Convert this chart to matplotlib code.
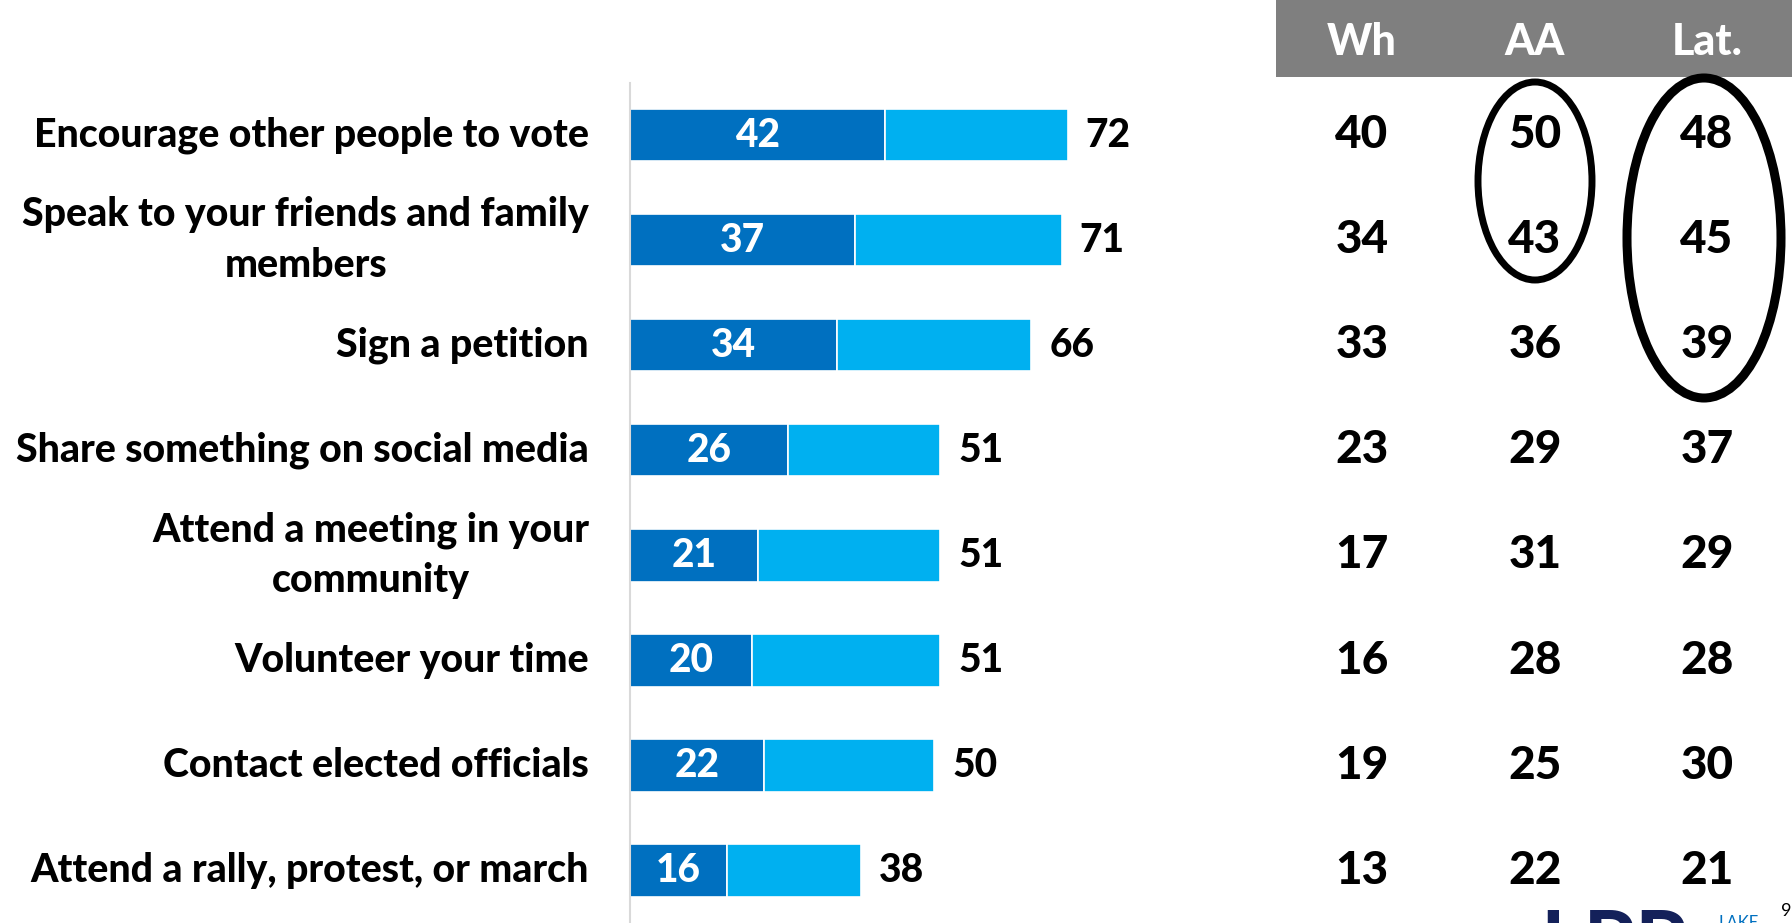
import matplotlib
matplotlib.use("Agg")
import matplotlib.pyplot as plt
from matplotlib.patches import Ellipse, Rectangle

plt.rcParams['font.family'] = ['Lato', 'DejaVu Sans']

categories = [
    "Encourage other people to vote",
    "Speak to your friends and family\nmembers",
    "Sign a petition",
    "Share something on social media",
    "Attend a meeting in your\ncommunity",
    "Volunteer your time",
    "Contact elected officials",
    "Attend a rally, protest, or march",
]
strong = [42, 37, 34, 26, 21, 20, 22, 16]
total = [72, 71, 66, 51, 51, 51, 50, 38]
groups = ["Wh", "AA", "Lat."]
white = [40, 34, 33, 23, 17, 16, 19, 13]
african_american = [50, 43, 36, 29, 31, 28, 25, 22]
latino = [48, 45, 39, 37, 29, 28, 30, 21]

FW = 900

W, H = 1792, 923
fig = plt.figure(figsize=(W / 100, H / 100), dpi=100)
fig.patch.set_facecolor('white')

ax_left = 630 / W
ax_w = 608 / W
ax_top_px = 82.5
ax = fig.add_axes([ax_left, 0.0, ax_w, (H - ax_top_px) / H])
ax.set_xlim(0, 100)
ax.set_ylim(len(categories) - 0.5, -0.5)

ypos = list(range(len(categories)))
rest = [t - s for t, s in zip(total, strong)]
ax.barh(ypos, strong, height=0.5, color='#0070C0', edgecolor='white', linewidth=1.2)
ax.barh(ypos, rest, left=strong, height=0.5, color='#00B0F0', edgecolor='white', linewidth=1.2)

for y, s, t in zip(ypos, strong, total):
    ax.text(s / 2, y, str(s), ha='center', va='center', color='white',
            fontsize=28, fontweight=FW)
    ax.annotate(str(t), xy=(t, y), xytext=(13, 0), textcoords='offset points',
                ha='left', va='center', color='black', fontsize=28, fontweight=FW)

ax.set_yticks([])
ax.set_xticks([])
for side in ['top', 'right', 'bottom']:
    ax.spines[side].set_visible(False)
ax.spines['left'].set_color('#d9d9d9')
ax.spines['left'].set_linewidth(1.5)
ax.patch.set_alpha(0)

ov = fig.add_axes([0, 0, 1, 1], zorder=5)
ov.set_xlim(0, W)
ov.set_ylim(H, 0)
ov.axis('off')
ov.patch.set_alpha(0)

row_y = [135 + 105.1 * i for i in range(len(categories))]
for y, c in zip(row_y, categories):
    ov.text(589, y, c, ha='right', va='center', multialignment='center',
            fontsize=28.3, fontweight=FW, color='black', linespacing=1.45)

ov.add_patch(Rectangle((1276, -5), W - 1276 + 5, 82, facecolor='#7f7f7f', edgecolor='none'))
col_x = [1362, 1535, 1707]
for x, g in zip(col_x, groups):
    ov.text(x, 42, g, ha='center', va='center', color='white', fontsize=31, fontweight=FW)

for x, vals in zip(col_x, [white, african_american, latino]):
    for y, v in zip(row_y, vals):
        ov.text(x, y, str(v), ha='center', va='center', color='black',
                fontsize=33, fontweight=FW)

ov.add_patch(Ellipse((1535, 181), 114, 198, fill=False, edgecolor='black', linewidth=5))
ov.add_patch(Ellipse((1704, 238), 154, 320, fill=False, edgecolor='black', linewidth=6.5))

ov.text(1540, 909, "LPP", ha='left', va='top', color='#14215a', fontsize=60,
        fontweight='bold')
ov.text(1718, 915, "LAKE", ha='left', va='top', color='#0070C0', fontsize=12)
ov.text(1781, 903, "9", ha='left', va='top', color='black', fontsize=13)

fig.savefig('out.png', dpi=100)
